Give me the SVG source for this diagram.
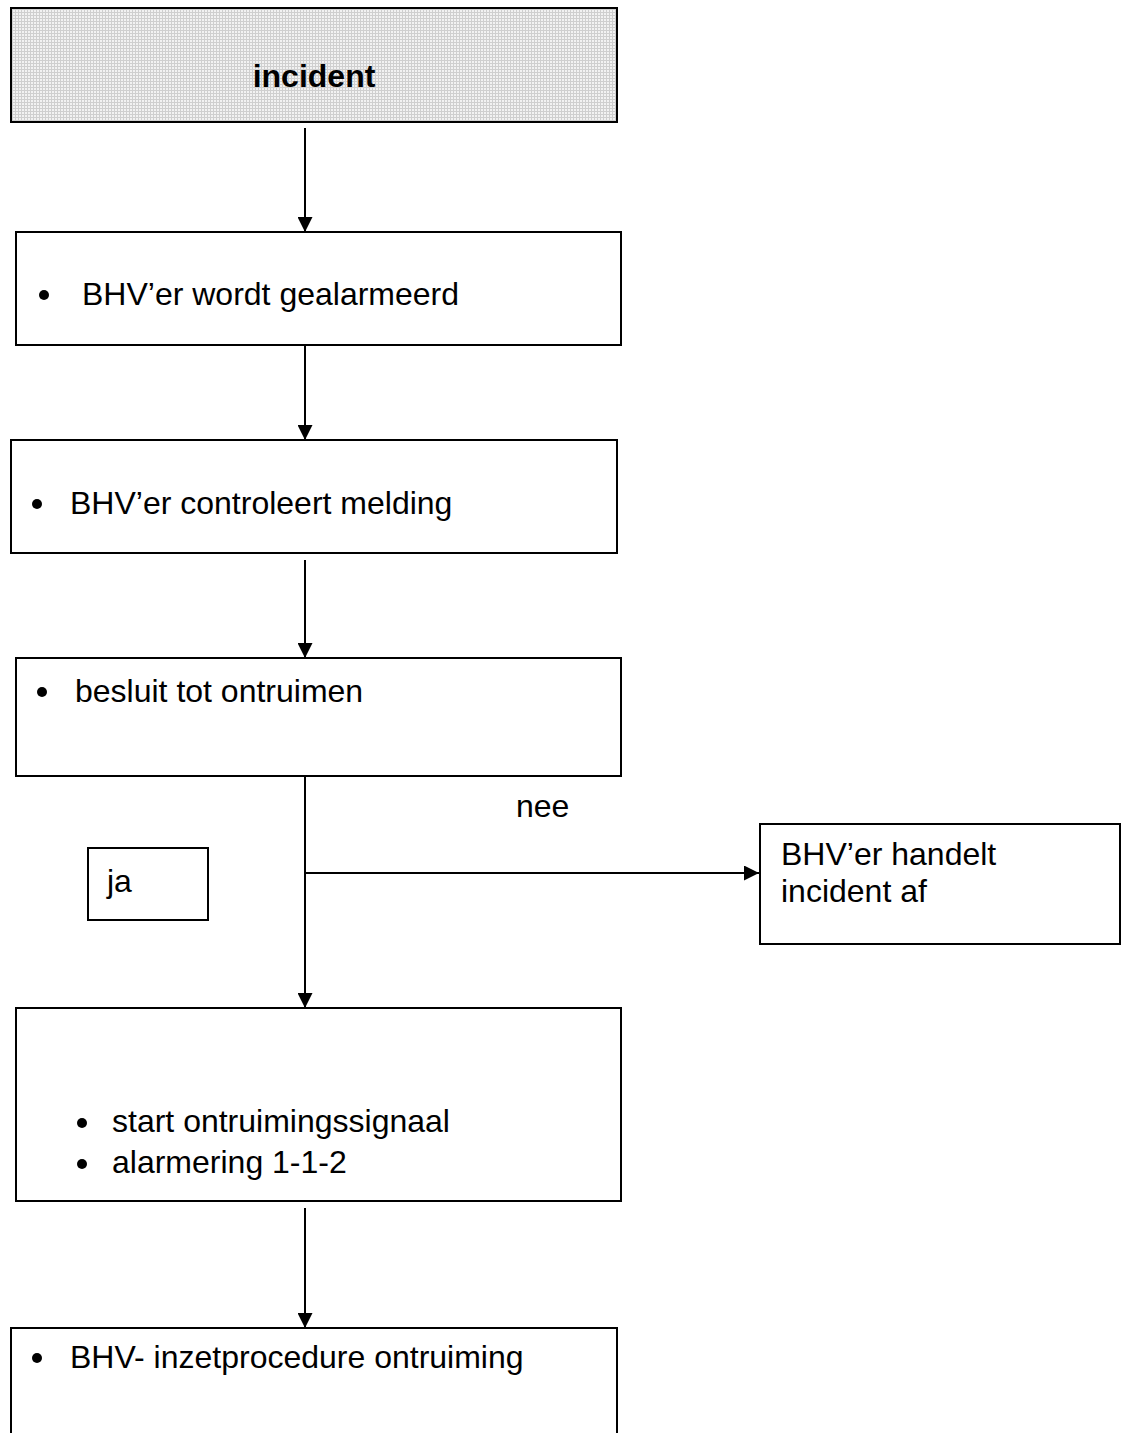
<svg xmlns="http://www.w3.org/2000/svg" width="1129" height="1433" viewBox="0 0 1129 1433">
<style>
.box{fill:#fff;stroke:#000;stroke-width:2}
.t{font-family:"Liberation Sans",Arial,sans-serif;font-size:32px;fill:#000}
.c{stroke:#000;stroke-width:2;fill:none}
</style>
<defs>
<pattern id="grid" width="3" height="3" patternUnits="userSpaceOnUse">
<rect width="3" height="3" fill="#f2f2f2"/>
<path d="M0 0.5H3M0.5 0V3" stroke="#cfcfcf" stroke-width="1"/>
</pattern>
<marker id="ah" markerWidth="15" markerHeight="15" refX="15" refY="7.5" orient="auto" markerUnits="userSpaceOnUse">
<path d="M0 0L15 7.5L0 15Z" fill="#000"/>
</marker>
</defs>
<rect width="1129" height="1433" fill="#fff"/>
<g id="connectors">
<line class="c" x1="305" y1="128" x2="305" y2="232" marker-end="url(#ah)"/>
<line class="c" x1="305" y1="345" x2="305" y2="440" marker-end="url(#ah)"/>
<line class="c" x1="305" y1="560" x2="305" y2="658" marker-end="url(#ah)"/>
<line class="c" x1="305" y1="776" x2="305" y2="1008" marker-end="url(#ah)"/>
<line class="c" x1="305" y1="873" x2="759" y2="873" marker-end="url(#ah)"/>
<line class="c" x1="305" y1="1208" x2="305" y2="1328" marker-end="url(#ah)"/>
<text class="t" x="516" y="817">nee</text>
</g>
<g id="incident">
<rect x="11" y="8" width="606" height="114" fill="url(#grid)" stroke="#000" stroke-width="2"/>
<text class="t" x="314" y="87" text-anchor="middle" font-weight="bold">incident</text>
</g>
<g id="gealarmeerd">
<rect class="box" x="16" y="232" width="605" height="113"/>
<circle cx="44" cy="295" r="5"/>
<text class="t" x="82" y="305">BHV’er wordt gealarmeerd</text>
</g>
<g id="controleert">
<rect class="box" x="11" y="440" width="606" height="113"/>
<circle cx="37" cy="504" r="5"/>
<text class="t" x="70" y="514">BHV’er controleert melding</text>
</g>
<g id="besluit">
<rect class="box" x="16" y="658" width="605" height="118"/>
<circle cx="42" cy="692" r="5"/>
<text class="t" x="75" y="702">besluit tot ontruimen</text>
</g>
<g id="ja">
<rect class="box" x="88" y="848" width="120" height="72"/>
<text class="t" x="107" y="892">ja</text>
</g>
<g id="handelt">
<rect class="box" x="760" y="824" width="360" height="120"/>
<text class="t" x="781" y="865">BHV’er handelt</text>
<text class="t" x="781" y="902">incident af</text>
</g>
<g id="start">
<rect class="box" x="16" y="1008" width="605" height="193"/>
<circle cx="82" cy="1123" r="5"/>
<text class="t" x="112" y="1132">start ontruimingssignaal</text>
<circle cx="82" cy="1164" r="5"/>
<text class="t" x="112" y="1173">alarmering 1-1-2</text>
</g>
<g id="inzet">
<path class="c" d="M11 1440V1328H617V1440"/>
<circle cx="37" cy="1358" r="5"/>
<text class="t" x="70" y="1368">BHV- inzetprocedure ontruiming</text>
</g>
</svg>
